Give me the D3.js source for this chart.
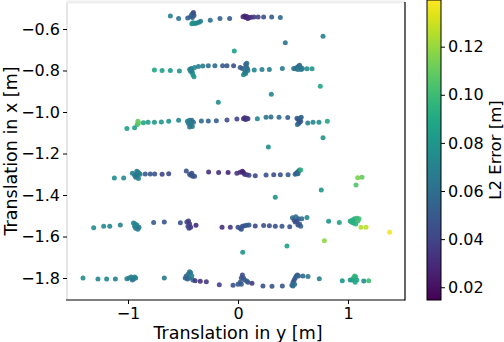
<!DOCTYPE html>
<html><head><meta charset="utf-8">
<script src="https://cdn.jsdelivr.net/npm/d3@7"></script>
<style>body{margin:0;background:#fff}svg{display:block}text{font-family:"DejaVu Sans",sans-serif;fill:#000}</style>
</head><body>
<svg id="c" width="504" height="342"></svg>
<script>
// [translation y, translation x, L2 error]
const row1 = [[-0.615,-0.537,0.068],[-0.54,-0.55,0.062],[-0.457,-0.547,0.052],[-0.42,-0.53,0.055],[-0.41,-0.525,0.05],[-0.40,-0.535,0.048],[-0.415,-0.545,0.05],[-0.43,-0.54,0.053],[-0.405,-0.52,0.045],[-0.41,-0.57,0.075],[-0.42,-0.575,0.078],[-0.40,-0.573,0.08],[-0.39,-0.572,0.076],[-0.375,-0.571,0.074],[-0.355,-0.568,0.07],[-0.34,-0.563,0.068],[-0.252,-0.558,0.06],[-0.164,-0.55,0.055],[-0.076,-0.55,0.05],[0.045,-0.541,0.03],[0.06,-0.537,0.028],[0.07,-0.545,0.025],[0.08,-0.54,0.027],[0.09,-0.55,0.028],[0.1,-0.545,0.03],[0.12,-0.543,0.032],[0.145,-0.542,0.035],[0.183,-0.542,0.038],[0.233,-0.542,0.045],[0.306,-0.542,0.05],[0.385,-0.545,0.058]];
const outliers = [[0.773,-0.635,0.07],[0.43,-0.666,0.062],[-0.034,-0.706,0.085],[0.748,-0.876,0.088],[0.303,-0.915,0.072],[-0.179,-0.953,0.075],[0.773,-1.124,0.078],[0.276,-1.169,0.076],[0.757,-1.376,0.08],[0.339,-1.411,0.078],[0.785,-1.62,0.118],[0.445,-1.646,0.085],[0.043,-1.676,0.078]];
const row2 = [[-0.76,-0.798,0.088],[-0.69,-0.8,0.085],[-0.615,-0.8,0.082],[-0.533,-0.803,0.078],[-0.44,-0.795,0.07],[-0.425,-0.79,0.065],[-0.43,-0.805,0.072],[-0.415,-0.81,0.075],[-0.41,-0.82,0.078],[-0.40,-0.83,0.08],[-0.42,-0.8,0.068],[-0.395,-0.785,0.072],[-0.36,-0.781,0.07],[-0.32,-0.778,0.065],[-0.27,-0.777,0.06],[-0.21,-0.777,0.058],[-0.14,-0.777,0.05],[-0.10,-0.777,0.048],[-0.04,-0.777,0.045],[0.02,-0.785,0.05],[0.04,-0.79,0.052],[0.07,-0.77,0.055],[0.075,-0.78,0.058],[0.08,-0.765,0.06],[0.085,-0.79,0.06],[0.09,-0.8,0.065],[0.06,-0.812,0.072],[0.05,-0.82,0.075],[0.07,-0.815,0.07],[0.065,-0.8,0.062],[0.148,-0.798,0.072],[0.218,-0.795,0.07],[0.285,-0.795,0.068],[0.403,-0.79,0.066],[0.506,-0.79,0.065],[0.52,-0.792,0.062],[0.535,-0.785,0.06],[0.55,-0.78,0.058],[0.56,-0.775,0.06],[0.57,-0.785,0.062],[0.575,-0.795,0.065],[0.585,-0.79,0.066],[0.545,-0.795,0.063],[0.627,-0.792,0.075],[0.673,-0.792,0.08]];
const row3 = [[-1.01,-1.079,0.085],[-0.94,-1.076,0.085],[-0.915,-1.06,0.1],[-0.905,-1.053,0.108],[-0.91,-1.045,0.11],[-0.86,-1.052,0.088],[-0.818,-1.05,0.084],[-0.76,-1.049,0.082],[-0.697,-1.048,0.08],[-0.63,-1.045,0.078],[-0.54,-1.04,0.074],[-0.46,-1.045,0.068],[-0.44,-1.04,0.065],[-0.42,-1.04,0.062],[-0.405,-1.05,0.06],[-0.43,-1.06,0.063],[-0.415,-1.07,0.065],[-0.44,-1.072,0.062],[-0.45,-1.055,0.066],[-0.333,-1.043,0.058],[-0.27,-1.043,0.055],[-0.197,-1.042,0.052],[-0.10,-1.038,0.045],[-0.01,-1.034,0.04],[0.05,-1.032,0.035],[0.06,-1.028,0.032],[0.07,-1.036,0.03],[0.08,-1.03,0.033],[0.09,-1.033,0.036],[0.176,-1.032,0.072],[0.255,-1.025,0.062],[0.3,-1.024,0.06],[0.373,-1.025,0.058],[0.452,-1.027,0.052],[0.536,-1.03,0.055],[0.545,-1.035,0.05],[0.555,-1.04,0.048],[0.565,-1.03,0.05],[0.57,-1.045,0.052],[0.55,-1.055,0.058],[0.54,-1.06,0.06],[0.575,-1.025,0.055],[0.56,-1.05,0.046],[0.634,-1.053,0.068],[0.682,-1.05,0.072],[0.736,-1.05,0.075],[0.812,-1.045,0.088]];
const row4 = [[-1.124,-1.318,0.076],[-1.039,-1.318,0.074],[-0.96,-1.295,0.07],[-0.94,-1.305,0.068],[-0.925,-1.3,0.065],[-0.91,-1.29,0.066],[-0.9,-1.295,0.07],[-0.915,-1.31,0.064],[-0.93,-1.315,0.062],[-0.905,-1.32,0.07],[-0.89,-1.3,0.068],[-0.92,-1.285,0.067],[-0.843,-1.299,0.05],[-0.797,-1.299,0.048],[-0.757,-1.299,0.046],[-0.69,-1.3,0.04],[-0.63,-1.297,0.042],[-0.47,-1.284,0.045],[-0.44,-1.3,0.05],[-0.43,-1.305,0.048],[-0.41,-1.31,0.046],[-0.42,-1.295,0.044],[-0.395,-1.31,0.047],[-0.267,-1.289,0.033],[-0.176,-1.291,0.032],[-0.09,-1.292,0.028],[-0.01,-1.295,0.035],[0.02,-1.29,0.03],[0.04,-1.285,0.027],[0.05,-1.292,0.025],[0.06,-1.3,0.03],[0.08,-1.302,0.035],[0.1,-1.305,0.04],[0.157,-1.307,0.042],[0.255,-1.304,0.045],[0.325,-1.303,0.044],[0.385,-1.303,0.046],[0.455,-1.302,0.05],[0.52,-1.3,0.055],[0.53,-1.295,0.05],[0.54,-1.29,0.052],[0.55,-1.285,0.055],[0.56,-1.28,0.06],[0.57,-1.279,0.095],[0.545,-1.298,0.058],[1.088,-1.317,0.115],[1.127,-1.314,0.11],[1.073,-1.352,0.105]];
const row5 = [[-1.312,-1.558,0.076],[-1.221,-1.551,0.074],[-1.166,-1.551,0.072],[-1.07,-1.545,0.07],[-0.95,-1.535,0.07],[-0.94,-1.55,0.068],[-0.93,-1.56,0.066],[-0.92,-1.545,0.07],[-0.91,-1.565,0.068],[-0.935,-1.54,0.072],[-0.9,-1.555,0.065],[-0.767,-1.532,0.05],[-0.67,-1.53,0.048],[-0.524,-1.534,0.046],[-0.465,-1.53,0.04],[-0.45,-1.525,0.038],[-0.44,-1.54,0.035],[-0.455,-1.55,0.04],[-0.445,-1.56,0.042],[-0.43,-1.555,0.037],[-0.382,-1.546,0.03],[-0.145,-1.556,0.032],[-0.07,-1.556,0.035],[0.0,-1.555,0.045],[0.02,-1.56,0.05],[0.04,-1.55,0.048],[0.06,-1.548,0.045],[0.08,-1.546,0.05],[0.1,-1.545,0.05],[0.03,-1.565,0.048],[0.157,-1.549,0.042],[0.233,-1.547,0.045],[0.285,-1.548,0.045],[0.339,-1.55,0.045],[0.4,-1.55,0.048],[0.47,-1.553,0.046],[0.495,-1.51,0.058],[0.51,-1.52,0.05],[0.52,-1.53,0.045],[0.535,-1.525,0.042],[0.55,-1.515,0.048],[0.56,-1.54,0.05],[0.57,-1.55,0.055],[0.58,-1.515,0.06],[0.545,-1.545,0.045],[0.525,-1.505,0.06],[0.627,-1.509,0.072],[0.824,-1.527,0.078],[0.921,-1.533,0.085],[1.02,-1.525,0.09],[1.04,-1.52,0.095],[1.06,-1.515,0.092],[1.08,-1.512,0.098],[1.09,-1.525,0.1],[1.05,-1.535,0.088],[1.07,-1.54,0.095],[1.1,-1.515,0.1],[1.03,-1.53,0.094],[1.118,-1.556,0.125],[1.164,-1.556,0.127],[1.379,-1.58,0.137]];
const row6 = [[-1.409,-1.8,0.075],[-1.273,-1.805,0.073],[-1.194,-1.805,0.072],[-1.115,-1.805,0.07],[-1.01,-1.804,0.068],[-0.99,-1.8,0.068],[-0.97,-1.795,0.07],[-0.95,-1.805,0.066],[-0.94,-1.795,0.072],[-0.93,-1.8,0.07],[-0.96,-1.81,0.065],[-0.67,-1.8,0.065],[-0.48,-1.8,0.058],[-0.47,-1.79,0.055],[-0.45,-1.78,0.06],[-0.44,-1.77,0.062],[-0.43,-1.775,0.065],[-0.46,-1.805,0.05],[-0.44,-1.8,0.058],[-0.42,-1.79,0.068],[-0.41,-1.81,0.06],[-0.39,-1.813,0.035],[-0.343,-1.816,0.032],[-0.288,-1.818,0.035],[-0.17,-1.832,0.04],[-0.045,-1.835,0.045],[0.0,-1.83,0.05],[0.02,-1.82,0.048],[0.03,-1.8,0.045],[0.04,-1.785,0.042],[0.05,-1.8,0.046],[0.06,-1.81,0.05],[0.08,-1.815,0.052],[0.09,-1.82,0.05],[0.03,-1.83,0.052],[0.127,-1.825,0.035],[0.227,-1.838,0.045],[0.309,-1.84,0.047],[0.403,-1.838,0.048],[0.49,-1.835,0.055],[0.5,-1.82,0.05],[0.51,-1.81,0.048],[0.52,-1.8,0.05],[0.53,-1.79,0.052],[0.54,-1.785,0.048],[0.55,-1.79,0.055],[0.515,-1.83,0.06],[0.5,-1.838,0.058],[0.59,-1.79,0.058],[0.636,-1.793,0.065],[0.739,-1.803,0.07],[0.948,-1.813,0.08],[1.02,-1.81,0.08],[1.04,-1.81,0.085],[1.05,-1.8,0.09],[1.06,-1.79,0.098],[1.07,-1.795,0.095],[1.08,-1.81,0.09],[1.065,-1.82,0.088],[1.143,-1.814,0.075],[1.188,-1.813,0.1]];
const xTicks = [-1, 0, 1];
const yTicks = [-0.6, -0.8, -1.0, -1.2, -1.4, -1.6, -1.8];
const cTicks = [0.02, 0.04, 0.06, 0.08, 0.10, 0.12];
const errDomain = [0.0147, 0.1394];

const svg = d3.select("#c");
const L = 67, R = 405, T = 2, B = 300;
const x = d3.scaleLinear().domain([-1.5545, 1.5182]).range([L, R]);
const y = d3.scaleLinear().domain([-0.4699, -1.906]).range([T, B]);
const color = d3.scaleSequential(d3.interpolateViridis).domain(errDomain);
const fmtMinus = s => s.replace("-", "\u2212");

const pts = [].concat(row1, row2, row3, row4, row5, row6, outliers);
svg.append("g").selectAll("circle").data(pts).join("circle")
  .attr("cx", d => x(d[0])).attr("cy", d => y(d[1])).attr("r", 2.5)
  .attr("fill", d => color(d[2])).attr("fill-opacity", 0.9);

// spines
svg.append("line").attr("x1", L).attr("x2", L).attr("y1", T).attr("y2", B).attr("stroke", "#e6e6e6").attr("stroke-width", 2);
svg.append("line").attr("x1", L).attr("x2", R).attr("y1", T).attr("y2", T).attr("stroke", "#eeeeee").attr("stroke-width", 3);
svg.append("line").attr("x1", R).attr("x2", R).attr("y1", T).attr("y2", B+0.5).attr("stroke", "#000").attr("stroke-width", 1.2);
svg.append("line").attr("x1", L-1).attr("x2", R).attr("y1", B).attr("y2", B).attr("stroke", "#000").attr("stroke-width", 1.2);

// x axis
const xa = svg.append("g").attr("transform", `translate(0,${B})`)
  .call(d3.axisBottom(x).tickValues(xTicks).tickSize(4).tickPadding(4).tickFormat(d => fmtMinus(d3.format("d")(d))));
xa.select(".domain").remove();
xa.selectAll("text").style("font-size", "16px").style("font-family", "DejaVu Sans");
// y axis
const ya = svg.append("g").attr("transform", `translate(${L},0)`)
  .call(d3.axisLeft(y).tickValues(yTicks).tickSize(4).tickPadding(3).tickFormat(d => fmtMinus(d3.format(".1f")(d))));
ya.select(".domain").remove();
ya.selectAll("text").style("font-size", "16px").style("font-family", "DejaVu Sans");

svg.append("text").attr("x", 238).attr("y", 339).attr("text-anchor", "middle")
  .style("font-size", "17.5px").text("Translation in y [m]");
svg.append("text").attr("transform", `translate(17,${(T+B)/2}) rotate(-90)`).attr("text-anchor", "middle")
  .style("font-size", "17.5px").text("Translation in x [m]");

// colorbar
const cbX = 427, cbW = 14;
const cy = d3.scaleLinear().domain(errDomain).range([B, 0]);
const defs = svg.append("defs");
const grad = defs.append("linearGradient").attr("id", "vg").attr("x1", 0).attr("y1", 1).attr("x2", 0).attr("y2", 0);
d3.range(0, 1.0001, 0.05).forEach(t => grad.append("stop").attr("offset", t).attr("stop-color", d3.interpolateViridis(t)));
svg.append("rect").attr("x", cbX).attr("y", 0).attr("width", cbW).attr("height", B).attr("fill", "url(#vg)")
  .attr("stroke", "#000").attr("stroke-width", 1);
const ca = svg.append("g").attr("transform", `translate(${cbX+cbW},0)`)
  .call(d3.axisRight(cy).tickValues(cTicks).tickSize(4).tickPadding(3).tickFormat(d3.format(".2f")));
ca.select(".domain").remove();
ca.selectAll("text").style("font-size", "16px").style("font-family", "DejaVu Sans");
svg.append("text").attr("transform", `translate(501,${B/2}) rotate(-90)`).attr("text-anchor", "middle")
  .style("font-size", "16.5px").text("L2 Error [m]");
</script>
</body></html>
